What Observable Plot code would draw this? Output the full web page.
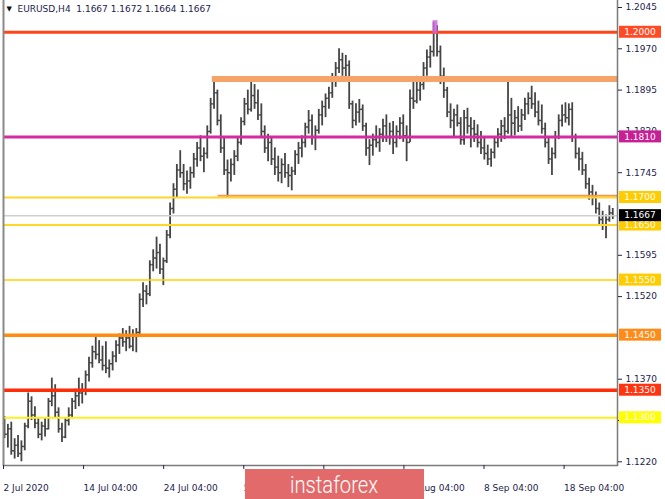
<!DOCTYPE html>
<html>
<head>
<meta charset="utf-8">
<script src="https://cdn.jsdelivr.net/npm/d3@7"></script>
<script src="https://cdn.jsdelivr.net/npm/@observablehq/plot@0.6"></script>
<style>
  html, body { margin: 0; padding: 0; background: #fff; }
  #chart svg { display: block; }
</style>
</head>
<body>
<div id="chart"></div>
<script>
// ---- Data ----
const title = "EURUSD,H4  1.1667 1.1672 1.1664 1.1667";

const high = [
  1.1302,1.1288,1.1292,1.1262,1.1268,1.1258,1.1290,1.1345,1.1338,1.1320,
  1.1300,1.1292,1.1300,1.1335,1.1372,1.1360,1.1318,1.1290,1.1300,1.1318,
  1.1335,1.1352,1.1372,1.1362,1.1385,1.1410,1.1430,1.1448,1.1440,1.1430,
  1.1438,1.1405,1.1420,1.1440,1.1452,1.1462,1.1458,1.1466,1.1460,1.1462,
  1.1525,1.1545,1.1540,1.1585,1.1605,1.1628,1.1615,1.1590,1.1640,1.1690,
  1.1725,1.1760,1.1785,1.1760,1.1748,1.1755,1.1780,1.1800,1.1812,1.1790,
  1.1830,1.1880,1.1915,1.1895,1.1850,1.1810,1.1768,1.1770,1.1785,1.1808,
  1.1845,1.1880,1.1895,1.1918,1.1905,1.1895,1.1870,1.1830,1.1815,1.1810,
  1.1790,1.1775,1.1770,1.1780,1.1760,1.1755,1.1785,1.1800,1.1812,1.1835,
  1.1858,1.1850,1.1830,1.1860,1.1875,1.1888,1.1900,1.1925,1.1945,1.1970,
  1.1962,1.1958,1.1948,1.1875,1.1870,1.1878,1.1868,1.1835,1.1805,1.1815,
  1.1830,1.1825,1.1842,1.1850,1.1835,1.1838,1.1830,1.1845,1.1850,1.1830,
  1.1895,1.1910,1.1920,1.1915,1.1945,1.1968,1.1975,1.2018,1.2012,1.1975,
  1.1935,1.1900,1.1870,1.1860,1.1868,1.1845,1.1858,1.1862,1.1845,1.1840,
  1.1832,1.1820,1.1808,1.1795,1.1788,1.1810,1.1825,1.1840,1.1845,1.1918,
  1.1880,1.1858,1.1865,1.1860,1.1880,1.1890,1.1902,1.1890,1.1875,1.1868,
  1.1835,1.1810,1.1790,1.1820,1.1850,1.1868,1.1872,1.1870,1.1872,1.1815,
  1.1790,1.1782,1.1760,1.1735,1.1722,1.1710,1.1690,1.1675,1.1668,1.1685,
  1.1680
];
const low = [
  1.1262,1.1245,1.1232,1.1225,1.1228,1.1220,1.1240,1.1280,1.1295,1.1280,
  1.1262,1.1258,1.1265,1.1278,1.1320,1.1300,1.1272,1.1255,1.1262,1.1285,
  1.1298,1.1315,1.1320,1.1325,1.1340,1.1365,1.1390,1.1405,1.1398,1.1385,
  1.1380,1.1372,1.1385,1.1400,1.1415,1.1428,1.1420,1.1425,1.1420,1.1418,
  1.1448,1.1500,1.1505,1.1520,1.1565,1.1570,1.1560,1.1540,1.1580,1.1625,
  1.1670,1.1700,1.1735,1.1712,1.1706,1.1715,1.1735,1.1755,1.1765,1.1745,
  1.1770,1.1815,1.1860,1.1830,1.1780,1.1740,1.1700,1.1728,1.1740,1.1765,
  1.1795,1.1830,1.1850,1.1855,1.1860,1.1840,1.1810,1.1780,1.1765,1.1758,
  1.1740,1.1728,1.1725,1.1735,1.1718,1.1712,1.1740,1.1760,1.1772,1.1790,
  1.1815,1.1795,1.1785,1.1815,1.1830,1.1845,1.1860,1.1880,1.1900,1.1925,
  1.1920,1.1915,1.1860,1.1825,1.1830,1.1835,1.1820,1.1775,1.1758,1.1775,
  1.1790,1.1782,1.1800,1.1800,1.1795,1.1778,1.1790,1.1805,1.1800,1.1765,
  1.1800,1.1860,1.1870,1.1875,1.1895,1.1920,1.1935,1.1955,1.1955,1.1905,
  1.1880,1.1845,1.1825,1.1810,1.1828,1.1795,1.1795,1.1815,1.1790,1.1800,
  1.1790,1.1778,1.1768,1.1758,1.1755,1.1770,1.1790,1.1800,1.1805,1.1815,
  1.1810,1.1812,1.1818,1.1820,1.1840,1.1850,1.1860,1.1845,1.1830,1.1815,
  1.1790,1.1760,1.1740,1.1770,1.1805,1.1828,1.1835,1.1830,1.1800,1.1770,
  1.1748,1.1740,1.1715,1.1695,1.1685,1.1670,1.1650,1.1640,1.1625,1.1655,
  1.1660
];
const close = [
  1.1270,1.1280,1.1240,1.1250,1.1235,1.1248,1.1285,1.1330,1.1305,1.1290,
  1.1270,1.1285,1.1280,1.1330,1.1340,1.1310,1.1280,1.1265,1.1295,1.1305,
  1.1330,1.1340,1.1345,1.1350,1.1378,1.1400,1.1420,1.1415,1.1405,1.1395,
  1.1390,1.1398,1.1412,1.1432,1.1445,1.1438,1.1445,1.1430,1.1450,1.1455,
  1.1515,1.1530,1.1525,1.1578,1.1590,1.1600,1.1570,1.1585,1.1632,1.1680,
  1.1715,1.1750,1.1745,1.1725,1.1730,1.1745,1.1770,1.1790,1.1775,1.1780,
  1.1820,1.1870,1.1890,1.1840,1.1790,1.1750,1.1745,1.1760,1.1775,1.1800,
  1.1838,1.1870,1.1860,1.1885,1.1872,1.1850,1.1820,1.1790,1.1800,1.1770,
  1.1755,1.1745,1.1760,1.1745,1.1740,1.1748,1.1778,1.1790,1.1800,1.1828,
  1.1840,1.1810,1.1822,1.1850,1.1865,1.1880,1.1890,1.1915,1.1935,1.1950,
  1.1935,1.1940,1.1870,1.1840,1.1855,1.1860,1.1830,1.1790,1.1795,1.1805,
  1.1800,1.1815,1.1830,1.1810,1.1820,1.1800,1.1820,1.1835,1.1812,1.1800,
  1.1880,1.1875,1.1895,1.1905,1.1935,1.1955,1.1965,1.2000,1.1965,1.1920,
  1.1895,1.1855,1.1840,1.1850,1.1835,1.1805,1.1845,1.1830,1.1825,1.1815,
  1.1800,1.1790,1.1780,1.1770,1.1782,1.1800,1.1815,1.1830,1.1820,1.1850,
  1.1835,1.1845,1.1830,1.1850,1.1870,1.1880,1.1870,1.1855,1.1840,1.1825,
  1.1800,1.1770,1.1780,1.1810,1.1840,1.1850,1.1845,1.1860,1.1810,1.1780,
  1.1770,1.1750,1.1725,1.1710,1.1700,1.1680,1.1660,1.1650,1.1660,1.1672,
  1.1667
];
const firstOpen = 1.1290;

// horizontal levels drawn on the chart and labelled on the price scale
const levels = [1.2000, 1.1810, 1.1700, 1.1650, 1.1550, 1.1450, 1.1350, 1.1300];
const levelLabels = ["1.2000", "1.1810", "1.1700", "1.1650", "1.1550", "1.1450", "1.1350", "1.1300"];
// resistance / support zones: price and the bar where the zone starts
const zonePrices = [1.1915, 1.1703];
const zoneStartBars = [61.5, 63.2];
// current bid
const bid = 1.1667;
const bidLabel = "1.1667";
// top marker (peak)
const markerBar = 127.4;
const markerLow = 1.1997;
const markerHigh = 1.2021;

// axis ticks (labels fully hidden behind level boxes in the source are left out)
const yTicks = [1.2045, 1.1970, 1.1895, 1.1820, 1.1745, 1.1595, 1.1520, 1.1370, 1.1295, 1.1220];
const xTickBars = [-0.3, 23.4, 47.1, 70.8, 94.5, 118.2, 141.9, 165.6];
const xTickLabels = ["2 Jul 2020", "14 Jul 04:00", "24 Jul 04:00", "5 Aug 04:00", "", "27 Aug 04:00", "8 Sep 04:00", "18 Sep 04:00"];

// ---- Styles ----
const levelColors = ["#ff4418", "#d62ba0", "#ffd62a", "#ffd62a", "#ffd000", "#ff8c10", "#ff2c08", "#ffee20"];
const levelWidths = [3, 3, 2, 2, 1.5, 3.5, 3.5, 2];
const boxColors = ["#ff4a25", "#c81f96", "#ffcc00", "#ffcc00", "#ffcc00", "#ff8c1a", "#ff3512", "#ffff00"];
const zoneColors = ["#f5a366", "#f59456"];
const zoneWidths = [6, 2];
const navy = "#23234d";
const barColor = "#454545";

const bars = high.map((h, i) => ({
  i, high: h, low: low[i], close: close[i], open: i === 0 ? firstOpen : close[i - 1]
}));
const xMax = 181.4;

const plot = Plot.plot({
  width: 665,
  height: 499,
  marginLeft: 3,
  marginRight: 48,
  marginTop: 0,
  marginBottom: 34,
  style: { background: "#ffffff", fontFamily: "DejaVu Sans, sans-serif", fontSize: "9px", color: navy },
  x: { domain: [-0.3, xMax], axis: null },
  y: { domain: [1.12133, 1.20577], axis: null },
  marks: [
    // OHLC bars
    Plot.ruleX(bars, { x: "i", y1: "low", y2: "high", stroke: barColor, strokeWidth: 1.8 }),
    Plot.link(bars, { x1: d => d.i - 0.5, x2: "i", y1: "open", y2: "open", stroke: barColor, strokeWidth: 1.5 }),
    Plot.link(bars, { x1: "i", x2: d => d.i + 0.5, y1: "close", y2: "close", stroke: barColor, strokeWidth: 1.5 }),
    // bid line
    Plot.ruleY([bid], { stroke: "#cfcfcf", strokeWidth: 1.5 }),
    // zones
    ...zonePrices.map((p, k) => Plot.ruleY([p], { x1: zoneStartBars[k], x2: xMax, stroke: zoneColors[k], strokeWidth: zoneWidths[k] })),
    // levels
    ...levels.map((v, k) => Plot.ruleY([v], { stroke: levelColors[k], strokeWidth: levelWidths[k] })),
    // peak marker
    Plot.ruleX([markerBar], { y1: markerLow, y2: markerHigh, stroke: "#cc66dd", strokeOpacity: 0.85, strokeWidth: 5 }),
    // frame lines
    Plot.ruleX([-0.3], { stroke: "#8a8a8a", strokeWidth: 2 }),
    Plot.ruleX([xMax], { stroke: "#7a7a7a", strokeWidth: 1.5 }),
    Plot.frame({ anchor: "bottom", stroke: "#7a7a7a", strokeWidth: 1.5 }),
    // axes
    Plot.axisY({
      anchor: "right", ticks: yTicks, tickSize: 4, tickPadding: 4, label: null,
      tickFormat: d => d.toFixed(4), fontSize: 9, color: navy
    }),
    Plot.axisX({
      anchor: "bottom", ticks: xTickBars, tickSize: 4, tickPadding: 15, label: null,
      tickFormat: d => xTickLabels[xTickBars.indexOf(d)], textAnchor: "start", fontSize: 9, color: navy
    }),
    // title
    Plot.text(["▼"], { frameAnchor: "top-left", dx: 3, dy: 6, fontSize: 7, fill: "#111" }),
    Plot.text([title], { frameAnchor: "top-left", dx: 14, dy: 5, fontSize: 9, fill: navy, textAnchor: "start" })
  ]
});

document.getElementById("chart").appendChild(plot);

// price-scale labels (boxes) positioned with the plot's y scale
const yScale = plot.scale("y");
const svg = d3.select(plot);
const boxG = svg.append("g").attr("font-family", "DejaVu Sans, sans-serif").attr("font-size", 9);
function addBox(value, label, fill) {
  const cy = yScale.apply(value);
  boxG.append("rect").attr("x", 619).attr("y", cy - 6).attr("width", 42).attr("height", 12).attr("fill", fill);
  boxG.append("text").attr("x", 640).attr("y", cy).attr("dy", "0.35em").attr("text-anchor", "middle")
    .attr("fill", "#ffffff").text(label);
}
levels.forEach((v, k) => { if (v !== 1.1650) addBox(v, levelLabels[k], boxColors[k]); });
addBox(1.1650, "1.1650", boxColors[3]);
addBox(bid, bidLabel, "#000000");

// instaforex banner
svg.append("rect").attr("x", 245).attr("y", 469).attr("width", 179).attr("height", 30).attr("fill", "#e36a6a");
svg.append("text").attr("x", 334).attr("y", 493).attr("text-anchor", "middle")
  .attr("font-family", "Roboto, sans-serif").attr("font-size", 24).attr("font-weight", 300)
  .attr("fill", "#ffffff").attr("textLength", 88).attr("lengthAdjust", "spacingAndGlyphs").text("instaforex");
</script>
</body>
</html>
